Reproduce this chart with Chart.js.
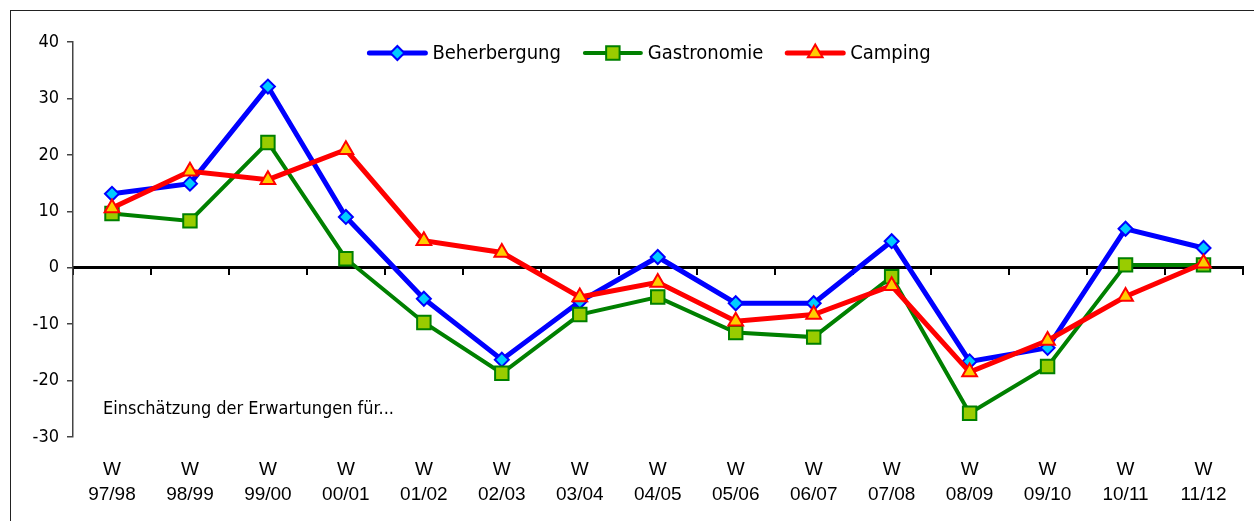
<!DOCTYPE html>
<html>
<head>
<meta charset="utf-8">
<script src="https://cdn.jsdelivr.net/npm/chart.js@4.4.1/dist/chart.umd.min.js"></script>
<style>
  html, body { margin: 0; padding: 0; background: #fff; overflow: hidden; }
  #frame { position: absolute; left: 10px; top: 10px; width: 1300px; height: 600px; border: 1px solid #222; }
  #wrap { position: absolute; left: 0; top: 0; width: 1254px; height: 521px; }
</style>
</head>
<body>
<div id="frame"></div>
<div id="wrap"><canvas id="chart"></canvas></div>
<script>
// categories (two-line labels)
const seasons = ['97/98', '98/99', '99/00', '00/01', '01/02', '02/03', '03/04', '04/05',
                 '05/06', '06/07', '07/08', '08/09', '09/10', '10/11', '11/12'];
const labels = seasons.map(s => ['W', s]);

// series values
const beherbergung = [13.1, 14.9, 32.1, 9.0, -5.5, -16.3, -6.0, 1.9, -6.3, -6.3, 4.7, -16.6, -14.2, 6.9, 3.5];
const gastronomie  = [9.6, 8.3, 22.2, 1.6, -9.7, -18.7, -8.3, -5.2, -11.5, -12.3, -1.6, -25.8, -17.5, 0.5, 0.5];
const camping      = [10.6, 17.1, 15.6, 20.9, 4.8, 2.7, -5.2, -2.6, -9.5, -8.3, -3.2, -18.5, -12.9, -5.1, 0.8];

// y axis ticks
const yMin = -30, yMax = 40, yStep = 10;

const noteText = 'Einschätzung der Erwartungen für...';
const fontFam = '"DejaVu Sans Condensed", "DejaVu Sans", sans-serif';

// legend drawn as line + marker, like the original
const lineLegend = {
    id: 'lineLegend',
    afterDraw(chart) {
        const ctx = chart.ctx;
        const items = chart.data.datasets;
        ctx.save();
        ctx.font = '20px ' + fontFam;
        const lineLen = 56, gapText = 7, gapItem = 24;
        let total = 0;
        items.forEach((ds, i) => {
            total += lineLen + gapText + ctx.measureText(ds.label).width;
            if (i < items.length - 1) total += gapItem;
        });
        let x = 650 - total / 2;
        const y = 53;
        items.forEach(ds => {
            ctx.strokeStyle = ds.borderColor;
            ctx.lineWidth = ds.borderWidth;
            ctx.lineCap = 'round';
            ctx.beginPath();
            ctx.moveTo(x, y);
            ctx.lineTo(x + lineLen, y);
            ctx.stroke();
            ctx.fillStyle = ds.pointBackgroundColor;
            ctx.strokeStyle = ds.pointBorderColor;
            ctx.lineWidth = ds.pointBorderWidth;
            if (Chart.helpers && Chart.helpers.drawPoint) {
                Chart.helpers.drawPoint(ctx, {
                    pointStyle: ds.pointStyle,
                    radius: ds.pointRadius,
                    rotation: 0,
                    borderWidth: ds.pointBorderWidth
                }, x + lineLen / 2, y);
            }
            ctx.fillStyle = '#000';
            ctx.textBaseline = 'middle';
            ctx.textAlign = 'left';
            ctx.fillText(ds.label, x + lineLen + gapText, y + 1);
            x += lineLen + gapText + ctx.measureText(ds.label).width + gapItem;
        });

        // note in the lower left corner
        ctx.font = '18px ' + fontFam;
        ctx.textBaseline = 'alphabetic';
        ctx.fillText(noteText, chart.chartArea.left + 30, 414);
        ctx.restore();
    }
};

new Chart(document.getElementById('chart'), {
    type: 'line',
    data: {
        labels: labels,
        datasets: [{
            label: 'Beherbergung',
            data: beherbergung,
            borderColor: '#0000FF',
            borderWidth: 5,
            pointStyle: 'rectRot',
            pointRadius: 7,
            pointBackgroundColor: '#00CCFF',
            pointBorderColor: '#0000FF',
            pointBorderWidth: 2,
            tension: 0,
            order: 3
        }, {
            label: 'Gastronomie',
            data: gastronomie,
            borderColor: '#008000',
            borderWidth: 4,
            pointStyle: 'rect',
            pointRadius: 9.5,
            pointBackgroundColor: '#99CC00',
            pointBorderColor: '#008000',
            pointBorderWidth: 2,
            tension: 0,
            order: 2
        }, {
            label: 'Camping',
            data: camping,
            borderColor: '#FF0000',
            borderWidth: 5,
            pointStyle: 'triangle',
            pointRadius: 8.5,
            pointBackgroundColor: '#FFCC00',
            pointBorderColor: '#FF0000',
            pointBorderWidth: 2,
            tension: 0,
            order: 1
        }]
    },
    options: {
        responsive: true,
        maintainAspectRatio: false,
        animation: false,
        layout: {
            padding: { left: 0, top: 42, right: 11, bottom: 0 }
        },
        plugins: {
            legend: { display: false },
            tooltip: { enabled: false },
            title: { display: false }
        },
        scales: {
            x: {
                type: 'category',
                offset: true,
                grid: { display: false, drawTicks: false },
                border: { display: false },
                ticks: {
                    color: '#000',
                    padding: 20,
                    maxRotation: 0,
                    autoSkip: false,
                    font: { family: '"Liberation Sans", Arial, sans-serif', size: 19, lineHeight: 1.32 }
                },
                afterFit: scale => { scale.height = 84; }
            },
            x2: {
                type: 'category',
                axis: 'x',
                offset: true,
                position: { y: 0 },
                ticks: { display: false },
                grid: {
                    offset: true,
                    drawOnChartArea: false,
                    drawTicks: true,
                    tickLength: 6,
                    color: '#000',
                    lineWidth: 2
                },
                border: { color: '#000', width: 3 }
            },
            y: {
                min: yMin,
                max: yMax,
                ticks: {
                    stepSize: yStep,
                    color: '#000',
                    padding: 8,
                    font: { family: fontFam, size: 18 }
                },
                grid: {
                    drawOnChartArea: false,
                    drawTicks: true,
                    tickLength: 6,
                    color: '#444',
                    lineWidth: 1.5
                },
                border: { color: '#444', width: 1.5 },
                afterFit: scale => { scale.width = 73; }
            }
        }
    },
    plugins: [lineLegend]
});
</script>
</body>
</html>
